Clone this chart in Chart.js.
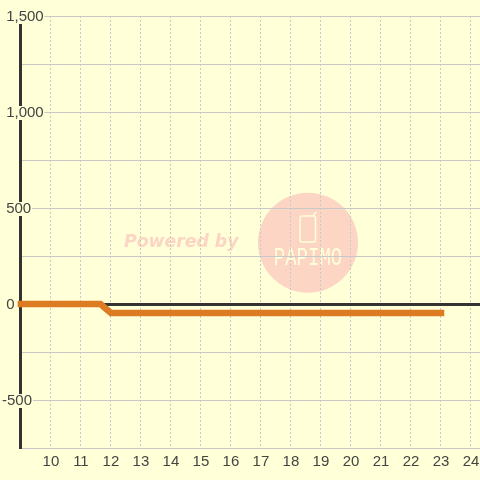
<!DOCTYPE html>
<html>
<head>
<meta charset="utf-8">
<style>
html, body { margin: 0; padding: 0; background: #ffffd8; }
#wrap { position: relative; width: 480px; height: 480px; }
</style>
<script src="https://cdn.jsdelivr.net/npm/chart.js@4/dist/chart.umd.js"></script>
</head>
<body>
<div id="wrap"><canvas id="myChart" width="480" height="480"></canvas></div>
<script>
var hours = [9, 10, 11, 11.65, 12, 13, 14, 15, 16, 17, 18, 19, 20, 21, 22, 23];
var values = [0, 0, 0, 0, -47, -47, -47, -47, -47, -47, -47, -47, -47, -47, -47, -47];
var points = hours.map(function (h, i) { return { x: h, y: values[i] }; });

var watermark = {
    id: 'watermark',
    beforeDraw: function (chart) {
        var c = chart.ctx;
        c.save();
        c.fillStyle = '#ffffd8';
        c.fillRect(0, 0, 480, 480);
        c.fillStyle = '#fdd5c4';
        c.beginPath();
        c.arc(308, 242.7, 50, 0, Math.PI * 2);
        c.fill();
        c.font = 'italic bold 17.3px "DejaVu Sans"';
        c.textBaseline = 'middle';
        c.fillText('Powered by', 124, 242.5);
        c.strokeStyle = '#ffffd8';
        c.fillStyle = '#ffffd8';
        c.lineWidth = 1.5;
        c.beginPath();
        c.roundRect(300, 216, 15.5, 26, 2);
        c.moveTo(313, 216);
        c.lineTo(316, 212);
        c.stroke();
        c.translate(308, 258.5);
        c.scale(0.76, 1);
        c.font = '25px "Liberation Mono"';
        c.textAlign = 'center';
        c.fillText('PAPIMO', 0, 0);
        c.restore();
    }
};

var ctx = document.getElementById('myChart').getContext('2d');
var myChart = new Chart(ctx, {
    type: 'line',
    plugins: [watermark],
    data: {
        datasets: [{
            data: points,
            borderColor: '#dd7b22',
            borderWidth: 6.5,
            borderCapStyle: 'square',
            borderJoinStyle: 'miter',
            pointRadius: 0,
            tension: 0,
            clip: false
        }]
    },
    options: {
        responsive: false,
        animation: false,
        layout: { padding: { top: 16, right: 0, bottom: 0, left: 0 } },
        plugins: { legend: { display: false }, tooltip: { enabled: false } },
        scales: {
            x: {
                type: 'linear',
                min: 8.97,
                max: 24.3,
                afterFit: function (s) { s.height = 32; s.paddingRight = 0; s.paddingLeft = 0; },
                border: { color: '#c8c8c8', width: 1, dash: [2, 2] },
                grid: { color: '#c8c8c8', lineWidth: 1, drawTicks: false },
                ticks: {
                    stepSize: 1,
                    includeBounds: false,
                    autoSkip: false,
                    maxRotation: 0,
                    padding: 5,
                    color: '#444444',
                    font: { family: 'Liberation Sans', size: 15 },
                    callback: function (v) { return v === 9 ? '' : v; }
                }
            },
            y: {
                min: -750,
                max: 1500,
                afterFit: function (s) { s.width = 20; },
                border: { color: '#333333', width: 3 },
                grid: {
                    drawTicks: false,
                    color: function (c) { return c.tick && c.tick.value === 0 ? '#333333' : '#c8c8c8'; },
                    lineWidth: function (c) { return c.tick && c.tick.value === 0 ? 3 : 1; }
                },
                ticks: {
                    stepSize: 250,
                    mirror: true,
                    crossAlign: 'near',
                    padding: -18,
                    labelOffset: 1,
                    color: '#444444',
                    font: { family: 'Liberation Sans', size: 15 },
                    showLabelBackdrop: true,
                    backdropColor: '#ffffd8',
                    backdropPadding: { top: -2, bottom: -2, left: 1, right: 1 },
                    callback: function (v) {
                        if (v % 500 !== 0) return '';
                        return v < 0 ? v.toLocaleString('en-US') : ' ' + v.toLocaleString('en-US');
                    }
                }
            }
        }
    }
});
</script>
</body>
</html>
